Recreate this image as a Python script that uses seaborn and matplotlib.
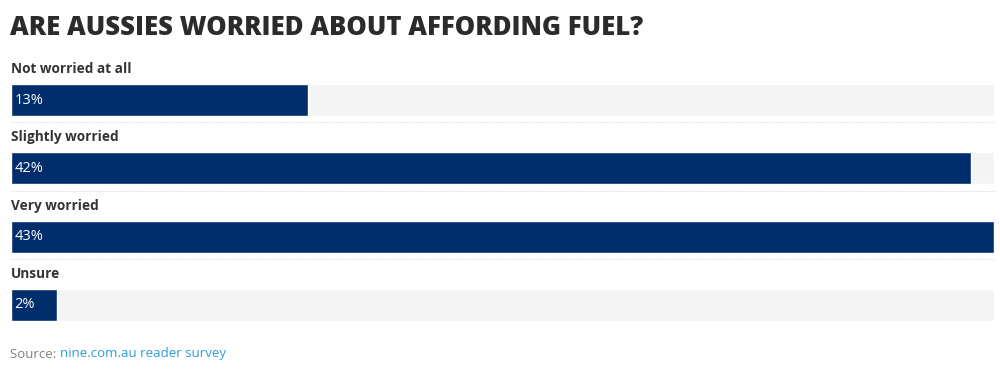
import matplotlib
matplotlib.use("Agg")
import matplotlib.pyplot as plt
import seaborn as sns
import pandas as pd

# data
categories = ["Not worried at all", "Slightly worried", "Very worried", "Unsure"]
values = [13, 42, 43, 2]
value_labels = ["13%", "42%", "43%", "2%"]

title = "ARE AUSSIES WORRIED ABOUT AFFORDING FUEL?"
source_prefix = "Source: "
source_link = "nine.com.au reader survey"

NAVY = "#002d6b"
TRACK = "#f4f4f4"
FONT = ["Open Sans", "DejaVu Sans"]

sns.set_theme(style="white")
plt.rcParams["font.family"] = FONT

df = pd.DataFrame({"cat": categories, "val": values})
df["track"] = max(values)

fig = plt.figure(figsize=(10, 3.71), dpi=100)
# axes spans the bar area (pixels 11..994 horizontally, 84..321 vertically)
ax = fig.add_axes([11 / 1000, 1 - 321 / 371, 983 / 1000, 237 / 371])

bar_h = 0.47
sns.barplot(data=df, x="track", y="cat", color=TRACK, width=bar_h,
            saturation=1, ax=ax, orient="h")
sns.barplot(data=df, x="val", y="cat", color=NAVY, width=bar_h,
            saturation=1, ax=ax, orient="h")

ax.set_xlim(0, max(values))
ax.set_ylim(len(categories) - 1 + bar_h / 2, -bar_h / 2)
ax.axis("off")

for i, (cat, lab) in enumerate(zip(categories, value_labels)):
    ax.text(0, i - bar_h / 2 - 0.22, cat, ha="left", va="center",
            fontsize=9.8, fontweight="bold", color="#333333")
    ax.text(0.15, i, lab, ha="left", va="center", fontsize=10.5,
            color="white")
    if i < len(categories) - 1:
        ax.plot([0, max(values)], [i + bar_h / 2 + 0.09] * 2, color="#dddddd",
                linestyle=(0, (1, 1)), linewidth=0.8, clip_on=False)

fig.text(10 / 1000, 1 - 28 / 371, title, ha="left", va="center",
         fontsize=18.5, fontweight="heavy", color="#2b2b2b")

t = fig.text(10 / 1000, 1 - 354 / 371, source_prefix, ha="left", va="center",
             fontsize=9.5, color="#808080")
fig.canvas.draw()
bb = t.get_window_extent()
fig.text(bb.x1 / 1000, 1 - 354 / 371, source_link, ha="left", va="center",
         fontsize=9.5, color="#2a9fd6")

fig.savefig("out.png", dpi=100, facecolor="white")
